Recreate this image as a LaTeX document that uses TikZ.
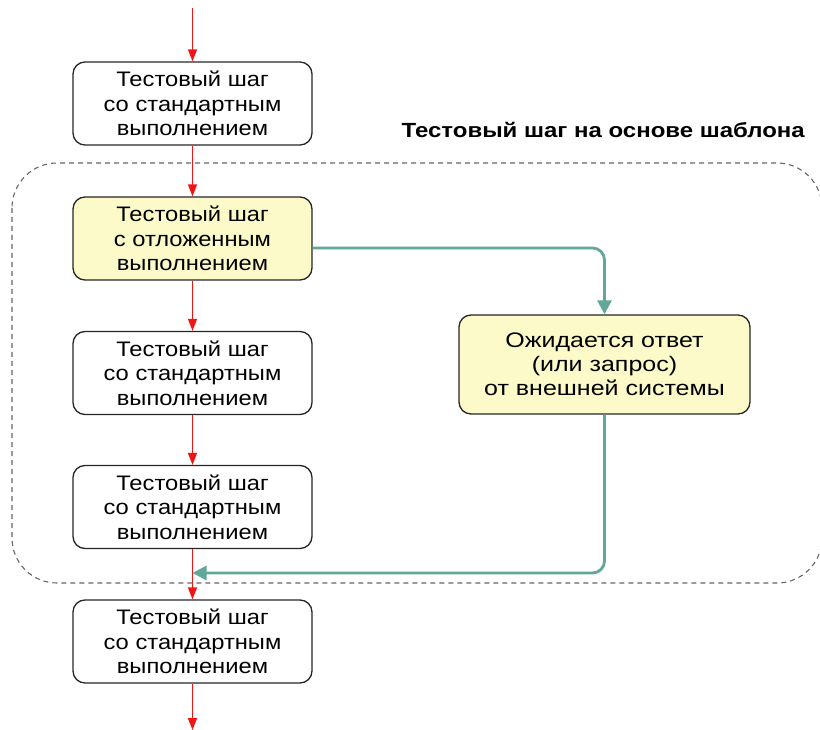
\documentclass[tikz,border=0pt]{standalone}
\usepackage{fontspec}
\setmainfont{Liberation Sans}
\newfontfamily\leftfont[FakeStretch=1.13]{Liberation Sans}
\newfontfamily\rightfont[FakeStretch=1.19]{Liberation Sans}
\newfontfamily\titlefont[FakeStretch=1.17]{Liberation Sans}
\usetikzlibrary{arrows.meta}
\definecolor{teal1}{RGB}{98,168,152}
\definecolor{yel}{RGB}{252,250,200}
\definecolor{redl}{RGB}{240,20,20}
\begin{document}
\begin{tikzpicture}[x=1pt,y=-1pt,
  stepbox/.style={draw=black!85,line width=1.3pt,rounded corners=12pt,minimum width=239pt,minimum height=83pt,align=center,font=\leftfont\fontsize{21}{24.5}\selectfont,inner sep=2pt},
  ybox/.style={stepbox,fill=yel},
  redarr/.style={draw=redl,line width=1.4pt,-{Triangle[length=12pt,width=9pt]}},
  tealarr/.style={draw=teal1,line width=2.8pt,rounded corners=12pt,-{Triangle[length=14pt,width=14pt]}}]
\useasboundingbox (0,0) rectangle (820,730);
\draw[gray!80!black,dash pattern=on 5pt off 4pt,line width=1.1pt,rounded corners=45pt] (12,163) rectangle (822,583);
\node[font=\titlefont\bfseries\fontsize{20.5}{24}\selectfont,anchor=east,inner sep=0pt] (title) at (805,130) {Тестовый шаг на основе шаблона};
\node[stepbox] (b1) at (192.5,103.5) {Тестовый шаг\\со стандартным\\выполнением};
\node[ybox] (b2) at (192.5,238.5) {Тестовый шаг\\с отложенным\\выполнением};
\node[stepbox] (b3) at (192.5,373) {Тестовый шаг\\со стандартным\\выполнением};
\node[stepbox] (b4) at (192.5,507) {Тестовый шаг\\со стандартным\\выполнением};
\node[stepbox] (b5) at (192.5,641.5) {Тестовый шаг\\со стандартным\\выполнением};
\node[ybox,minimum width=291pt,minimum height=99pt,font=\rightfont\fontsize{21}{24}\selectfont] (r) at (604.5,364.5) {Ожидается ответ\\(или запрос)\\от внешней системы};
\coordinate (top) at (192.5,8);
\coordinate (bot) at (192.5,730);
\coordinate (m) at (192.5,573);
\draw[redarr] (top) -- (b1.north);
\draw[redarr] (b1.south) -- (b2.north);
\draw[redarr] (b2.south) -- (b3.north);
\draw[redarr] (b3.south) -- (b4.north);
\draw[redarr] (b4.south) -- (b5.north);
\draw[redarr] (b5.south) -- (bot);
\draw[tealarr] (b2.east |- 0,248) -| (r.north);
\draw[tealarr] (r.south) |- (m);
\end{tikzpicture}
\end{document}
